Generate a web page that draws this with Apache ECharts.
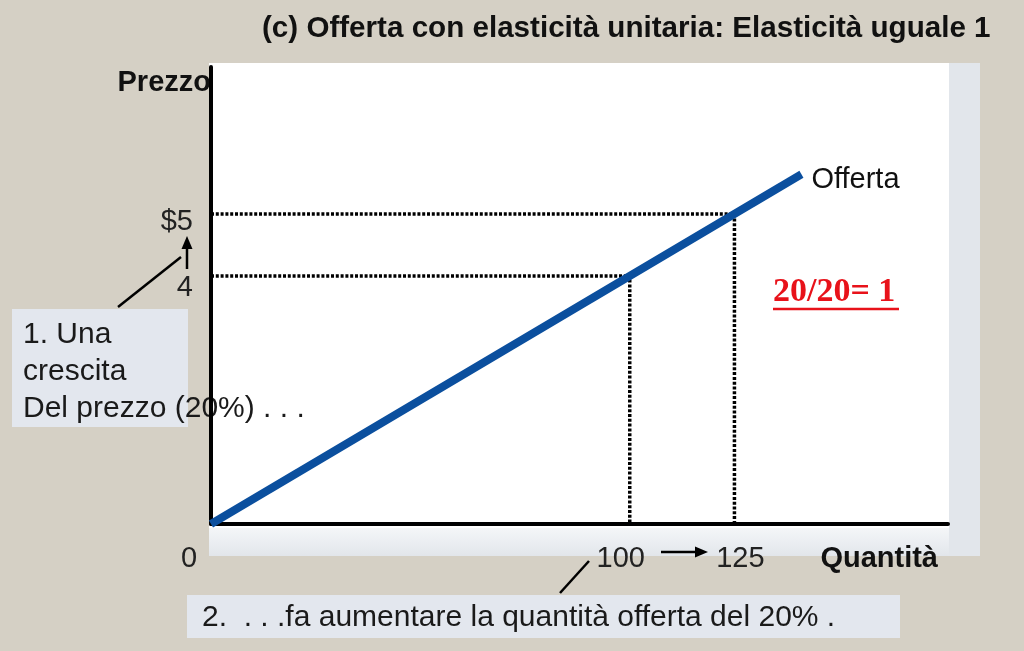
<!DOCTYPE html>
<html><head><meta charset="utf-8">
<script src="https://cdn.jsdelivr.net/npm/echarts@6/dist/echarts.min.js"></script>
<style>html,body{margin:0;padding:0;background:#d5d0c5;}#c{width:1024px;height:651px;}</style>
</head><body><div id="c"></div>
<script>
// ---- data ----
const supplyQ = [0, 141];
const supplyP = [0, 5.64];
const guideQ = [100, 125];
const guideP = [4, 5];
const xTickValues = [0, 100, 125];
const xTickLabels = ['0', '100', '125'];
const yTickValues = [4, 5];
const yTickLabels = ['4', '$5'];
const titleText = '(c) Offerta con elasticità unitaria: Elasticità uguale 1';
const xName = 'Quantità';
const yName = 'Prezzo';
const seriesName = 'Offerta';
const note1 = ['1. Una', 'crescita', 'Del prezzo (20%) . . .'];
const note2 = '2.  . . .fa aumentare la quantità offerta del 20% .';
const ratioText = '20/20= 1';

// ---- chart ----
const FONT = "'Liberation Sans', Arial, sans-serif";
const chart = echarts.init(document.getElementById('c'), null, {renderer: 'canvas'});

const guideSeries = guideQ.map((q, i) => ({
  type: 'line', silent: true, symbol: 'none', z: 3,
  data: [[0, guideP[i]], [q, guideP[i]], [q, 0]],
  lineStyle: {color: '#000', width: 3.5, type: [3, 1.8]}
}));

const xLab = {};
xTickValues.forEach((v, i) => { xLab[v] = xTickLabels[i]; });
const yLab = {};
yTickValues.forEach((v, i) => { yLab[v] = yTickLabels[i]; });

const option = {
  backgroundColor: '#d5d0c5',
  animation: false,
  textStyle: {fontFamily: FONT},
  grid: {left: 211, right: 76, top: 67, bottom: 127, containLabel: false},
  xAxis: {
    type: 'value', min: 0, max: 176,
    name: xName, nameLocation: 'end', nameGap: -10,
    nameTextStyle: {fontFamily: FONT, fontSize: 29, fontWeight: 'bold', color: '#111',
      align: 'right', verticalAlign: 'top', padding: [20, 0, 0, 0]},
    axisLine: {show: true, lineStyle: {color: '#000', width: 4}},
    axisTick: {show: false},
    splitLine: {show: false},
    axisLabel: {
      customValues: xTickValues, margin: 20, color: '#222', fontSize: 29, fontFamily: FONT,
      formatter: v => v === 0 ? '{o|' + xLab[v] + '}' : (v === 100 ? '{l|' + xLab[v] + '}' : '{r|' + xLab[v] + '}'),
      rich: {
        o: {fontSize: 29, fontFamily: FONT, color: '#222', padding: [0, 44, 0, 0]},
        l: {fontSize: 29, fontFamily: FONT, color: '#222', padding: [0, 18, 0, 0]},
        r: {fontSize: 29, fontFamily: FONT, color: '#222', padding: [0, 0, 0, 12]}
      }
    }
  },
  yAxis: {
    type: 'value', min: 0, max: 7.37,
    name: yName, nameLocation: 'end', nameGap: -16,
    nameTextStyle: {fontFamily: FONT, fontSize: 29, fontWeight: 'bold', color: '#111',
      align: 'right', verticalAlign: 'middle'},
    axisLine: {show: true, lineStyle: {color: '#000', width: 4}},
    axisTick: {show: false},
    splitLine: {show: false},
    axisLabel: {
      customValues: yTickValues, margin: 18, color: '#222', fontSize: 29, fontFamily: FONT,
      formatter: v => v === 5 ? '{a|' + yLab[v] + '}' : '{b|' + yLab[v] + '}',
      rich: {
        a: {fontSize: 29, fontFamily: FONT, color: '#222', padding: [16, 0, 0, 0]},
        b: {fontSize: 29, fontFamily: FONT, color: '#222', padding: [24, 0, 0, 0]}
      }
    }
  },
  series: guideSeries.concat([{
    type: 'line', name: seriesName, symbol: 'none', z: 5,
    data: supplyQ.map((q, i) => [q, supplyP[i]]),
    lineStyle: {color: '#0b4f9e', width: 8, cap: 'butt'},
    endLabel: {show: true, formatter: seriesName, distance: 10, offset: [0, 6],
      fontFamily: FONT, fontSize: 29, color: '#111'}
  }]),
  graphic: [
    // panel with shadow
    {type: 'rect', z: -20, shape: {x: 209, y: 63, width: 771, height: 493}, style: {fill: '#e2e6eb'}},
    {type: 'rect', z: -19, shape: {x: 209, y: 63, width: 740, height: 466}, style: {fill: '#ffffff'}},
    {type: 'rect', z: -19, shape: {x: 209, y: 528, width: 740, height: 28}, style: {
      fill: {type: 'linear', x: 0, y: 0, x2: 0, y2: 1, colorStops: [{offset: 0, color: '#f4f6f8'}, {offset: 1, color: '#e2e6eb'}]}}},
    // title
    {type: 'text', z: 1, x: 262, y: 29, style: {text: titleText, font: "bold 29.6px 'Liberation Sans', Arial, sans-serif",
      fill: '#111', textVerticalAlign: 'middle'}},
    // note 1
    {type: 'rect', z: -5, shape: {x: 12, y: 309, width: 176, height: 118}, style: {fill: '#e3e7ee'}},
    {type: 'text', z: -4, x: 23, y: 316, style: {text: note1.join('\n'), font: "30px 'Liberation Sans', Arial, sans-serif",
      fill: '#1a1a1a', lineHeight: 37}},
    // note 2
    {type: 'rect', z: -5, shape: {x: 187, y: 595, width: 713, height: 43}, style: {fill: '#e3e7ee'}},
    {type: 'text', z: -4, x: 202, y: 618, style: {text: note2, font: "30px 'Liberation Sans', Arial, sans-serif",
      fill: '#1a1a1a', textVerticalAlign: 'middle'}},
    // ratio
    {type: 'text', z: 6, x: 773, y: 292, style: {text: ratioText, font: "bold 34px 'Liberation Serif', 'Times New Roman', serif",
      fill: '#e8121a', textVerticalAlign: 'middle'}},
    {type: 'line', z: 6, shape: {x1: 773, y1: 309, x2: 899, y2: 309}, style: {stroke: '#e8121a', lineWidth: 2.7}},
    // arrows
    {type: 'line', z: 6, shape: {x1: 118, y1: 307, x2: 181, y2: 257}, style: {stroke: '#000', lineWidth: 2.5}},
    {type: 'line', z: 6, shape: {x1: 187, y1: 269, x2: 187, y2: 246}, style: {stroke: '#000', lineWidth: 2.5}},
    {type: 'polygon', z: 6, shape: {points: [[187, 236], [181.5, 249], [192.5, 249]]}, style: {fill: '#000'}},
    {type: 'line', z: 6, shape: {x1: 560, y1: 593, x2: 589, y2: 561}, style: {stroke: '#000', lineWidth: 2.5}},
    {type: 'line', z: 6, shape: {x1: 661, y1: 552, x2: 697, y2: 552}, style: {stroke: '#000', lineWidth: 2.5}},
    {type: 'polygon', z: 6, shape: {points: [[708, 552], [695, 546.5], [695, 557.5]]}, style: {fill: '#000'}}
  ]
};
chart.setOption(option);
</script>
</body></html>
